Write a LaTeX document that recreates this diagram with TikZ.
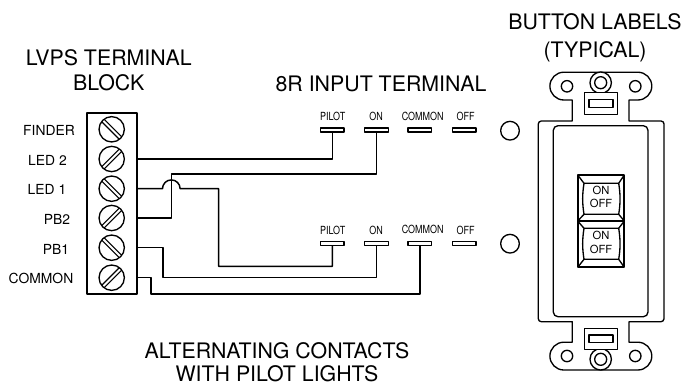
\documentclass[tikz,border=0pt]{standalone}
\usepackage{fontspec}
\setmainfont{TeX Gyre Heros}
\usepackage{tikz}
\usetikzlibrary{arrows,positioning}

\begin{document}
\begin{tikzpicture}[x=.75pt,y=-.75pt
	,line join=round
	,wire/.style={line width=1.1pt}
	,outline/.style={line width=1pt}
	,every node/.style={inner sep=0pt,outer sep=0pt}
	,title/.style={font=\fontsize{16pt}{19pt}\selectfont,align=center}
	,pinlabel/.style={font=\fontsize{10.4pt}{12pt}\selectfont}
	,termlabel/.style={font=\fontsize{8.4pt}{10pt}\selectfont,xscale=.8,transform shape}
	,keylabel/.style={font=\fontsize{8.4pt}{10pt}\selectfont,align=center}
	,termbar/.style={draw,outline,rectangle,minimum width=17.6pt,minimum height=3.2pt}
	,lamp/.style={draw,outline,circle,minimum size=14pt}
	,screwdown/.style={draw,outline,circle,minimum size=19pt,path picture={
		\draw[line width=.8pt,shift={(path picture bounding box.center)}]
		(-12.8,-15.2) -- (15.2,12.8) (-15.2,-12.8) -- (12.8,15.2);}}
	,screwup/.style={draw,outline,circle,minimum size=19pt,path picture={
		\draw[line width=.8pt,shift={(path picture bounding box.center)}]
		(-12.8,15.2) -- (15.2,-12.8) (-15.2,12.8) -- (12.8,-15.2);}}
	]
  \useasboundingbox (0,0) rectangle (682,385);

  % titles
  \node[title] (blocktitle) at (108.7,70) {LVPS TERMINAL\\BLOCK};
  \node[title] (inputtitle) at (381,84.3) {8R INPUT TERMINAL};
  \node[title] (buttontitle) at (595,37.5) {BUTTON LABELS\\[1.7pt](TYPICAL)};
  \node[title] (bottomtitle) at (277,362) {ALTERNATING CONTACTS\\[-1.5pt]WITH PILOT LIGHTS};

  % terminal block
  \node[draw,outline,rectangle,minimum width=37.5pt,minimum height=135.7pt] (block) at (112,203.5) {};
  \node[screwdown] (finder) at (111.7,129.3) {};
  \node[screwup]   (ledtwo) at (111.7,159) {};
  \node[screwdown] (ledone) at (111.7,188.7) {};
  \node[screwup]   (pbtwo)  at (111.7,218) {};
  \node[screwdown] (pbone)  at (111.7,247.7) {};
  \node[screwup]   (common) at (111.7,277.7) {};

  \node[pinlabel] (lfinder) at (49,130) {FINDER};
  \node[pinlabel] (lledtwo) at (47.5,160) {LED 2};
  \node[pinlabel] (lledone) at (47,189) {LED 1};
  \node[pinlabel] (lpbtwo)  at (57,219) {PB2};
  \node[pinlabel] (lpbone)  at (56,249) {PB1};
  \node[pinlabel] (lcommon) at (41,278) {COMMON};

  % upper terminals
  \node[termbar] (pilota)  at (332.4,130) {};
  \node[termbar] (ona)     at (376.5,130) {};
  \node[termbar] (commona) at (419.8,130) {};
  \node[termbar] (offa)    at (464.3,130) {};
  \node[lamp]    (lampa)   at (510,130.7) {};
  \node[termlabel] (lpilota)  at (332.7,116.7) {PILOT};
  \node[termlabel] (lona)     at (376,116.7) {ON};
  \node[termlabel] (lcommona) at (422.7,116.7) {COMMON};
  \node[termlabel] (loffa)    at (465.7,116.7) {OFF};

  % lower terminals
  \node[termbar] (pilotb)  at (332.4,243.3) {};
  \node[termbar] (onb)     at (376.5,243.3) {};
  \node[termbar] (commonb) at (419.8,243.3) {};
  \node[termbar] (offb)    at (464.3,243.3) {};
  \node[lamp]    (lampb)   at (510,243.7) {};
  \node[termlabel] (lpilotb)  at (332.7,230.7) {PILOT};
  \node[termlabel] (lonb)     at (376,230.7) {ON};
  \node[termlabel] (lcommonb) at (422.7,229.7) {COMMON};
  \node[termlabel] (loffb)    at (465.7,230.7) {OFF};

  % wires
  \coordinate (hopstart) at (162.5,188.7);
  \coordinate (turnled) at (218.7,188.7);
  \coordinate (riseb) at (171.3,174);
  \coordinate (dropb) at (163,247.7);
  \coordinate (dropc) at (151,277.7);
  \draw[wire] (ledtwo -| block.east) -| (pilota.south);
  \draw[wire] (pbtwo -| block.east) -| (riseb) -| (ona.south);
  \draw[wire] (ledone -| block.east) -- (hopstart) arc (180:360:8.8) -- (turnled) |- (332.4,266.3) -- (pilotb.south);
  \draw[wire] (pbone -| block.east) -- (dropb) |- (376.5,277.7) -- (onb.south);
  \draw[wire] (common -| block.east) -- (dropc) |- (419.8,294) -- (commonb.south);

  % wall plate
  \draw[outline] (572.3,100) -- (563.8,100) arc (90:270:13.9) -- (637.9,72.2) arc (-90:90:13.9) -- (629,100)
    -- (629,121) -- (661,121) arc (-90:0:3) -- (664,318.7) arc (0:90:3) -- (629,321.7)
    -- (629,342.2) -- (637.9,342.2) arc (-90:90:13.9) -- (563.8,370) arc (90:270:13.9) -- (572.3,342.2)
    -- (572.3,321.7) -- (541.3,321.7) arc (90:180:3) -- (538.3,124) arc (180:270:3) -- (572.3,121) -- cycle;
  \draw[outline,rounded corners=3.5pt] (553.3,125.7) rectangle (648,316.7);

  % top mount
  \draw[outline] (567,86.3) circle (5.7);
  \draw[outline] (635.3,86.3) circle (5.7);
  \draw[outline,fill=white] (600.7,82.7) circle (10.7);
  \draw[outline] (600.7,82.7) circle (6);
  \draw[outline,fill=white] (584.3,92.7) rectangle (617.7,114.3);
  \draw[outline] (589,99.3) rectangle (613,107.7);

  % bottom mount
  \draw[outline] (567,356) circle (5.7);
  \draw[outline] (635.3,356) circle (5.7);
  \draw[outline,fill=white] (600.7,359.3) circle (10.7);
  \draw[outline] (600.7,359.3) circle (6);
  \draw[outline,fill=white] (584.3,328.7) rectangle (617.7,349.3);
  \draw[outline] (589,335) rectangle (613,342.7);

  % rocker switch
  \draw[line width=1.6pt] (577.7,175) rectangle (624.3,267.3);
  \draw[line width=1.6pt] (577.7,221) -- (624.3,221);
  \draw[outline] (584,183.3) -- (618.7,183.3) .. controls (620.5,195) and (620.5,203) .. (618.7,214.3)
    -- (584,214.3) .. controls (582.2,203) and (582.2,195) .. (584,183.3) -- cycle;
  \draw[outline] (584,228.3) -- (618.7,228.3) .. controls (620.5,240) and (620.5,248) .. (618.7,259.3)
    -- (584,259.3) .. controls (582.2,248) and (582.2,240) .. (584,228.3) -- cycle;
  \draw[outline] (577.7,175) -- (584,183.3) (624.3,175) -- (618.7,183.3) (577.7,221) -- (584,214.3) (624.3,221) -- (618.7,214.3);
  \draw[outline] (577.7,221) -- (584,228.3) (624.3,221) -- (618.7,228.3) (577.7,267.3) -- (584,259.3) (624.3,267.3) -- (618.7,259.3);
  \node[keylabel] (keya) at (601,197) {ON\\OFF};
  \node[keylabel] (keyb) at (601,242.5) {ON\\OFF};
\end{tikzpicture}
\end{document}
